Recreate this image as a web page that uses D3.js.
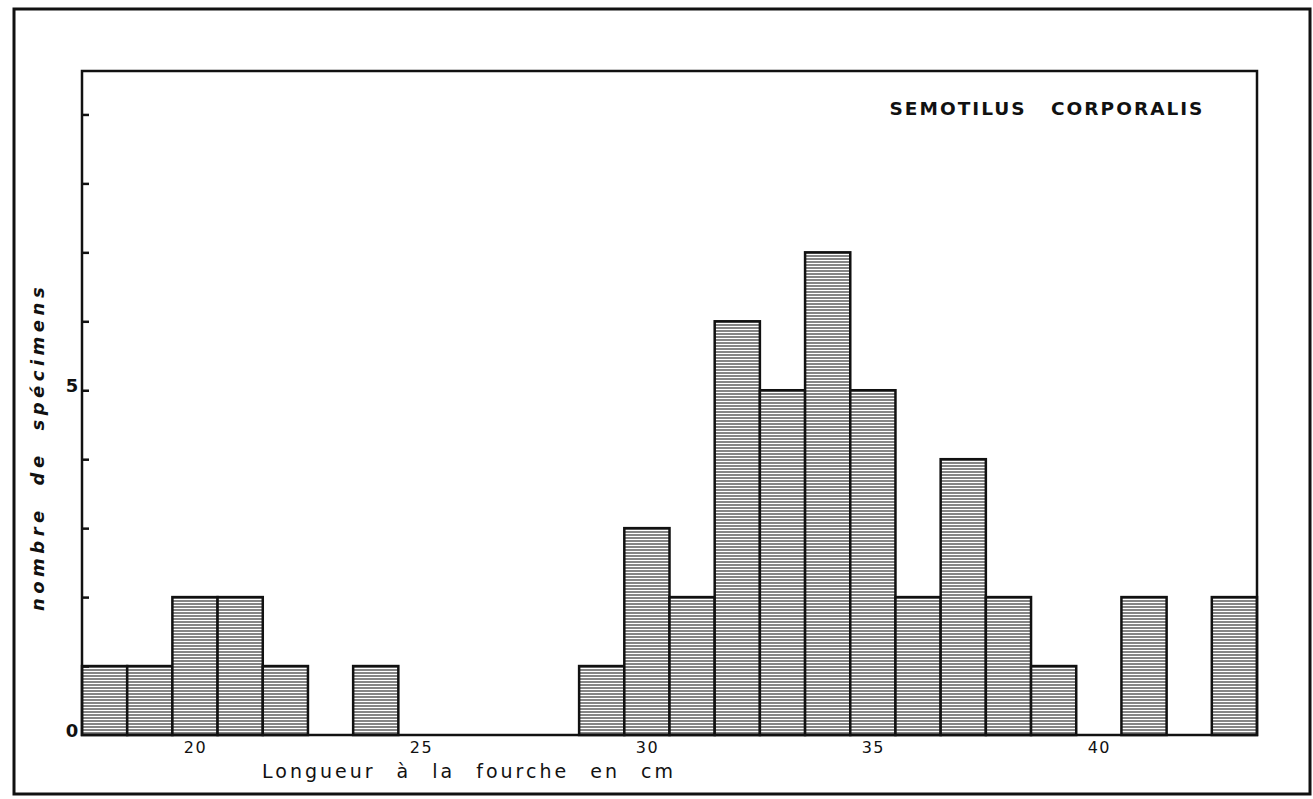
<!DOCTYPE html>
<html lang="fr">
<head>
  <meta charset="UTF-8" />
  <title>Semotilus corporalis</title>
  <style>
    body { margin: 0; background: #fff; }
    svg text { font-family: "DejaVu Sans", sans-serif; fill: #111; }
    .bar { stroke: #111; stroke-width: 2.5px; }
    .frame { fill: none; stroke: #111; }
  </style>
</head>
<body>
  <svg width="1313" height="799"></svg>
  <script src="https://d3js.org/d3.v7.min.js"></script>
  <script>
    // longueur (cm) et nombre de specimens
    const lengths = [18, 19, 20, 21, 22, 23, 24, 25, 26, 27, 28, 29, 30, 31, 32, 33, 34, 35, 36, 37, 38, 39, 40, 41, 42, 43];
    const counts  = [1, 1, 2, 2, 1, 0, 1, 0, 0, 0, 0, 1, 3, 2, 6, 5, 7, 5, 2, 4, 2, 1, 0, 2, 0, 2];
    const xTickValues = [20, 25, 30, 35, 40];
    const yTickValues = [1, 2, 3, 4, 5, 6, 7, 8, 9];
    const yLabelValues = [0, 5];

    const svg = d3.select("svg");
    const m = { left: 82, right: 1257, top: 71, bottom: 735 };

    const x = d3.scaleLinear().domain([17.5, 43.5]).range([m.left, m.right]);
    const y = d3.scaleLinear().domain([0, 9.63]).range([m.bottom, m.top]);

    // hachures horizontales
    const defs = svg.append("defs");
    const pat = defs.append("pattern")
      .attr("id", "hatch")
      .attr("patternUnits", "userSpaceOnUse")
      .attr("width", 8)
      .attr("height", 3);
    pat.append("rect").attr("width", 8).attr("height", 3).attr("fill", "#fff");
    pat.append("line")
      .attr("x1", 0).attr("x2", 8)
      .attr("y1", 1).attr("y2", 1)
      .attr("stroke", "#333")
      .attr("stroke-width", 1.2);

    // cadre exterieur
    svg.append("rect")
      .attr("class", "frame")
      .attr("x", 14).attr("y", 9)
      .attr("width", 1296).attr("height", 785)
      .attr("stroke-width", 3);

    const data = lengths.map((l, i) => ({ l, c: counts[i] }));

    svg.append("g")
      .selectAll("rect")
      .data(data.filter(d => d.c > 0))
      .enter()
      .append("rect")
      .attr("class", "bar")
      .attr("x", d => x(d.l - 0.5))
      .attr("width", d => x(d.l + 0.5) - x(d.l - 0.5))
      .attr("y", d => y(d.c))
      .attr("height", d => y(0) - y(d.c))
      .attr("fill", "url(#hatch)");

    // cadre du graphique
    svg.append("rect")
      .attr("class", "frame")
      .attr("x", m.left).attr("y", m.top)
      .attr("width", m.right - m.left).attr("height", m.bottom - m.top)
      .attr("stroke-width", 2.5);

    // graduations y (vers l'interieur)
    const yAxis = d3.axisRight(y).tickValues(yTickValues).tickSize(7).tickFormat("");
    const gy = svg.append("g").attr("transform", `translate(${m.left},0)`).call(yAxis);
    gy.select(".domain").remove();
    gy.selectAll("line").attr("stroke", "#111").attr("stroke-width", 2.5);

    svg.append("g")
      .selectAll("text")
      .data(yLabelValues)
      .enter()
      .append("text")
      .attr("x", 72)
      .attr("y", d => y(d) - 3)
      .attr("text-anchor", "middle")
      .attr("dominant-baseline", "middle")
      .attr("font-size", 18)
      .attr("font-weight", "bold")
      .text(d => d);

    // etiquettes x
    const xAxis = d3.axisBottom(x).tickValues(xTickValues).tickSize(0).tickPadding(7);
    const gx = svg.append("g").attr("transform", `translate(0,${m.bottom})`).call(xAxis);
    gx.select(".domain").remove();
    gx.selectAll("text")
      .attr("font-family", "DejaVu Sans, sans-serif")
      .attr("font-size", 16)
      .attr("letter-spacing", 1.5)
      .attr("fill", "#111");

    // titres
    svg.append("text")
      .attr("x", 1047)
      .attr("y", 115)
      .attr("text-anchor", "middle")
      .attr("font-size", 18.5)
      .attr("font-weight", "bold")
      .attr("letter-spacing", 2)
      .attr("word-spacing", 16)
      .text("SEMOTILUS CORPORALIS");

    svg.append("text")
      .attr("x", 262)
      .attr("y", 778)
      .attr("font-size", 19)
      .attr("letter-spacing", 3)
      .attr("word-spacing", 12)
      .text("Longueur à la fourche en cm");

    svg.append("text")
      .attr("transform", "translate(44,447) rotate(-90)")
      .attr("text-anchor", "middle")
      .attr("font-size", 18)
      .attr("font-style", "italic")
      .attr("font-weight", "bold")
      .attr("letter-spacing", 4.5)
      .attr("word-spacing", 10)
      .text("nombre de spécimens");
  </script>
</body>
</html>
